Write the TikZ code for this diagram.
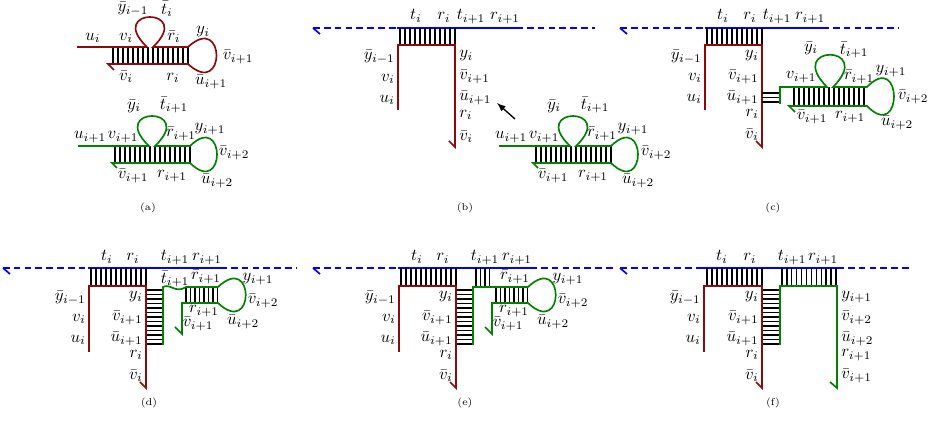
\documentclass[tikz,border=0pt]{standalone}
\usepackage{amsmath,amssymb}
\usepackage{tikz}
\usetikzlibrary{arrows}
\definecolor{dnared}{RGB}{140,10,10}
\definecolor{dnagreen}{RGB}{0,130,0}

\begin{document}
\begin{tikzpicture}[x=0.6pt, y=-0.6pt, >=latex,
    redst/.style={draw=dnared, line width=1pt},
    grnst/.style={draw=dnagreen, line width=1pt},
    bluest/.style={draw=blue, line width=1pt},
    bluedash/.style={bluest, dash pattern=on 4pt off 2.5pt},
    bp/.style={draw=black, line width=0.75pt},
    lbl/.style={inner sep=0pt},
    lft/.style={lbl, anchor=east},
    rgt/.style={lbl, anchor=west},
    toplbl/.style={lbl, anchor=base},
    captxt/.style={inner sep=0pt, font=\fontsize{6}{7}\selectfont}]
    \useasboundingbox (0,0) rectangle (940,432);

    % (a) red hairpin
    \foreach \x in {113,118,...,188} \draw[bp] (\x,47) -- (\x,64);
    \draw[redst] (77,47) -- (147,47) .. controls (105,7) and (195,7) .. (153,47) -- (188,47)
        .. controls (226,12) and (226,99) .. (188,64) -- (108,64) -- (114,70);
    \node[lbl] (a-ui) at (93,38) {$u_i$};
    \node[lbl] (a-vi) at (126,38) {$v_i$};
    \node[lbl] (a-ybar) at (133,9) {$\bar{y}_{i-1}$};
    \node[lbl] (a-tbar) at (167,9) {$\bar{t}_i$};
    \node[lbl] (a-rbar) at (174,37) {$\bar{r}_i$};
    \node[lbl] (a-yi) at (203,32) {$y_i$};
    \node[lbl] (a-vbar1) at (238,57) {$\bar{v}_{i+1}$};
    \node[lbl] (a-vbar) at (126,77) {$\bar{v}_i$};
    \node[lbl] (a-ri) at (173,78) {$r_i$};
    \node[lbl] (a-ubar1) at (211,82) {$\bar{u}_{i+1}$};

    % (a) green hairpin
    \foreach \x in {115,120,...,190} \draw[bp] (\x,146) -- (\x,163);
    \draw[grnst] (78,146) -- (149,146) .. controls (107,106) and (197,106) .. (155,146) -- (190,146)
        .. controls (226,111) and (226,198) .. (190,163) -- (112,163) -- (117,168);
    \node[lbl] (a-u1) at (90,137) {$u_{i+1}$};
    \node[lbl] (a-v1) at (123,137) {$v_{i+1}$};
    \node[lbl] (a-ybari) at (134,106) {$\bar{y}_i$};
    \node[lbl] (a-tbar1) at (174,105) {$\bar{t}_{i+1}$};
    \node[lbl] (a-rbar1) at (181,134) {$\bar{r}_{i+1}$};
    \node[lbl] (a-y1) at (210,129) {$y_{i+1}$};
    \node[lbl] (a-vbar2) at (234,153) {$\bar{v}_{i+2}$};
    \node[lbl] (a-vbarb) at (133,176) {$\bar{v}_{i+1}$};
    \node[lbl] (a-r1) at (172,176) {$r_{i+1}$};
    \node[lbl] (a-ubar2) at (217,181) {$\bar{u}_{i+2}$};
    \node[captxt] (cap-a) at (148,208) {(a)};

    % (b) template and red strand
    \draw[bluedash] (313,28) -- (397,28);
    \draw[bluest] (313,28) -- (320,34);
    \draw[bluest] (397,28) -- (516,28);
    \draw[bluedash] (516,28) -- (595,28);
    \foreach \x in {400,405,...,455} \draw[bp] (\x,28) -- (\x,45);
    \draw[redst] (398,110) -- (398,45) -- (455,45) -- (455,147) -- (449,141);
    \node[toplbl] (b-ti) at (416,20) {$t_i$};
    \node[toplbl] (b-ri) at (444,20) {$r_i$};
    \node[toplbl] (b-t1) at (471,20) {$t_{i+1}$};
    \node[toplbl] (b-r1) at (505,20) {$r_{i+1}$};
    \node[lft] (b-ybar) at (395,57) {$\bar{y}_{i-1}$};
    \node[lft] (b-vi) at (395,79) {$v_i$};
    \node[lft] (b-ui) at (395,100) {$u_i$};
    \node[rgt] (b-yi) at (459,56) {$y_i$};
    \node[rgt] (b-vbar1) at (459,77) {$\bar{v}_{i+1}$};
    \node[rgt] (b-ubar1) at (459,98) {$\bar{u}_{i+1}$};
    \node[rgt] (b-rr) at (459,115) {$r_i$};
    \node[rgt] (b-vbar) at (459,137) {$\bar{v}_i$};

    % (b) green hairpin and arrow
    \foreach \x in {536,541,...,611} \draw[bp] (\x,146) -- (\x,163);
    \draw[grnst] (499,146) -- (570,146) .. controls (528,106) and (618,106) .. (576,146) -- (611,146)
        .. controls (647,111) and (647,198) .. (611,163) -- (533,163) -- (538,168);
    \node[lbl] (b-u1) at (511,137) {$u_{i+1}$};
    \node[lbl] (b-v1) at (544,137) {$v_{i+1}$};
    \node[lbl] (b-ybari) at (554,106) {$\bar{y}_i$};
    \node[lbl] (b-tbar1) at (595,105) {$\bar{t}_{i+1}$};
    \node[lbl] (b-rbar1) at (602,134) {$\bar{r}_{i+1}$};
    \node[lbl] (b-y1) at (633,129) {$y_{i+1}$};
    \node[lbl] (b-vbar2) at (656,153) {$\bar{v}_{i+2}$};
    \node[lbl] (b-vbarb) at (553,176) {$\bar{v}_{i+1}$};
    \node[lbl] (b-r1b) at (593,176) {$r_{i+1}$};
    \node[lbl] (b-ubar2) at (638,181) {$\bar{u}_{i+2}$};
    \coordinate (arrS) at (515,119);
    \coordinate (arrT) at (497,103);
    \draw[->, line width=0.8pt] (arrS) -- (arrT);
    \node[captxt] (cap-b) at (465,208) {(b)};

    % (c) template and red strand
    \draw[bluedash] (620,28) -- (705,28);
    \draw[bluest] (620,28) -- (627,34);
    \draw[bluest] (705,28) -- (822,28);
    \draw[bluedash] (822,28) -- (898,28);
    \foreach \x in {707,712,...,762} \draw[bp] (\x,28) -- (\x,45);
    \draw[redst] (705,110) -- (705,45) -- (762,45) -- (762,147) -- (756,141);
    \foreach \y in {93,97.5,102} \draw[bp] (762,\y) -- (780,\y);
    \node[toplbl] (c-ti) at (723,20) {$t_i$};
    \node[toplbl] (c-ri) at (750,20) {$r_i$};
    \node[toplbl] (c-t1) at (777,20) {$t_{i+1}$};
    \node[toplbl] (c-r1) at (810,20) {$r_{i+1}$};
    \node[lft] (c-ybar) at (702,57) {$\bar{y}_{i-1}$};
    \node[lft] (c-vi) at (702,78) {$v_i$};
    \node[lft] (c-ui) at (702,99) {$u_i$};
    \node[lft] (c-yi) at (759,56) {$y_i$};
    \node[lft] (c-vbar1) at (759,77) {$\bar{v}_{i+1}$};
    \node[lft] (c-ubar1) at (759,98) {$\bar{u}_{i+1}$};
    \node[lft] (c-rr) at (759,114) {$r_i$};
    \node[lft] (c-vbar) at (759,135) {$\bar{v}_i$};

    % (c) green hairpin
    \foreach \x in {794,799,...,866} \draw[bp] (\x,87) -- (\x,106);
    \draw[grnst] (780,104) -- (780,87) -- (827,87) .. controls (784,44) and (876,44) .. (833,87) -- (867,87)
        .. controls (903,50) and (903,143) .. (867,106) -- (789,106) -- (795,112);
    \node[lbl] (c-ybari) at (811,48) {$\bar{y}_i$};
    \node[lbl] (c-tbar1) at (854,50) {$\bar{t}_{i+1}$};
    \node[lbl] (c-v1) at (801,77) {$v_{i+1}$};
    \node[lbl] (c-rbar1) at (859,77) {$\bar{r}_{i+1}$};
    \node[lbl] (c-y1) at (891,71) {$y_{i+1}$};
    \node[lbl] (c-vbar2) at (913,97) {$\bar{v}_{i+2}$};
    \node[lbl] (c-vbarb) at (812,117) {$\bar{v}_{i+1}$};
    \node[lbl] (c-r1b) at (850,117) {$r_{i+1}$};
    \node[lbl] (c-ubar2) at (897,123) {$\bar{u}_{i+2}$};
    \node[captxt] (cap-c) at (773,208) {(c)};

    % (d) template and red strand
    \draw[bluedash] (3,268) -- (88,268);
    \draw[bluest] (3,268) -- (10,274);
    \draw[bluest] (88,268) -- (220,268);
    \draw[bluedash] (220,268) -- (297,268);
    \foreach \x in {91,96,...,146} \draw[bp] (\x,268) -- (\x,286);
    \foreach \y in {290,294.5,...,344} \draw[bp] (146,\y) -- (163,\y);
    \draw[redst] (89,352) -- (89,286) -- (146,286) -- (146,388) -- (140,382);
    \node[toplbl] (d-ti) at (107,261) {$t_i$};
    \node[toplbl] (d-ri) at (133,261) {$r_i$};
    \node[toplbl] (d-t1) at (175,261) {$t_{i+1}$};
    \node[toplbl] (d-r1) at (207,261) {$r_{i+1}$};
    \node[lft] (d-ybar) at (86,298) {$\bar{y}_{i-1}$};
    \node[lft] (d-vi) at (86,319) {$v_i$};
    \node[lft] (d-ui) at (86,340) {$u_i$};
    \node[lft] (d-yi) at (143,297) {$y_i$};
    \node[lft] (d-vbar1) at (143,318) {$\bar{v}_{i+1}$};
    \node[lft] (d-ubar1) at (143,339) {$\bar{u}_{i+1}$};
    \node[lft] (d-rr) at (143,355) {$r_i$};
    \node[lft] (d-vbar) at (143,376) {$\bar{v}_i$};

    % (d) green strand
    \foreach \x in {186,190.5,...,218} \draw[bp] (\x,287) -- (\x,303);
    \draw[grnst] (163,345) -- (163,287) .. controls (170,283) and (176,294) .. (186,287) -- (218,287)
        .. controls (255,252) and (255,338) .. (218,303) -- (182,303) -- (182,334) -- (175,327);
    \node[lbl] (d-tbar1) at (175,279) {$\bar{t}_{i+1}$};
    \node[lbl] (d-rbar1) at (206,277) {$\bar{r}_{i+1}$};
    \node[lbl] (d-y1) at (258,279) {$y_{i+1}$};
    \node[lbl] (d-vbar2) at (263,301) {$\bar{v}_{i+2}$};
    \node[lbl] (d-r1b) at (204,311) {$r_{i+1}$};
    \node[lbl] (d-vbarb) at (198,324) {$\bar{v}_{i+1}$};
    \node[lbl] (d-ubar2) at (243,322) {$\bar{u}_{i+2}$};
    \node[captxt] (cap-d) at (149,403) {(d)};

    % (e) template and red strand
    \draw[bluedash] (313,268) -- (398,268);
    \draw[bluest] (313,268) -- (320,274);
    \draw[bluest] (398,268) -- (530,268);
    \draw[bluedash] (530,268) -- (615,268);
    \foreach \x in {401,406,...,456} \draw[bp] (\x,268) -- (\x,286);
    \foreach \y in {290,294.5,...,344} \draw[bp] (456,\y) -- (473,\y);
    \draw[redst] (399,352) -- (399,286) -- (456,286) -- (456,388) -- (450,382);
    \node[toplbl] (e-ti) at (417,261) {$t_i$};
    \node[toplbl] (e-ri) at (443,261) {$r_i$};
    \node[toplbl] (e-t1) at (485,261) {$t_{i+1}$};
    \node[toplbl] (e-r1) at (517,261) {$r_{i+1}$};
    \node[lft] (e-ybar) at (396,298) {$\bar{y}_{i-1}$};
    \node[lft] (e-vi) at (396,319) {$v_i$};
    \node[lft] (e-ui) at (396,340) {$u_i$};
    \node[lft] (e-yi) at (453,297) {$y_i$};
    \node[lft] (e-vbar1) at (453,318) {$\bar{v}_{i+1}$};
    \node[lft] (e-ubar1) at (453,339) {$\bar{u}_{i+1}$};
    \node[lft] (e-rr) at (453,355) {$r_i$};
    \node[lft] (e-vbar) at (453,376) {$\bar{v}_i$};

    % (e) green strand
    \foreach \x in {476,480.5,...,492} \draw[bp] (\x,268) -- (\x,287);
    \foreach \x in {496,500.5,...,528} \draw[bp] (\x,287) -- (\x,303);
    \draw[grnst] (473,345) -- (473,287) -- (528,287)
        .. controls (565,252) and (565,338) .. (528,303) -- (492,303) -- (492,334) -- (485,327);
    \node[lbl] (e-rbar1) at (515,277) {$\bar{r}_{i+1}$};
    \node[lbl] (e-y1) at (568,279) {$y_{i+1}$};
    \node[lbl] (e-vbar2) at (573,301) {$\bar{v}_{i+2}$};
    \node[lbl] (e-r1b) at (514,311) {$r_{i+1}$};
    \node[lbl] (e-vbarb) at (508,324) {$\bar{v}_{i+1}$};
    \node[lbl] (e-ubar2) at (553,322) {$\bar{u}_{i+2}$};
    \node[captxt] (cap-e) at (465,403) {(e)};

    % (f) template and both strands
    \draw[bluedash] (620,268) -- (703,268);
    \draw[bluest] (620,268) -- (627,274);
    \draw[bluest] (703,268) -- (837,268);
    \draw[bluedash] (837,268) -- (912,268);
    \foreach \x in {707,712,...,762} \draw[bp] (\x,268) -- (\x,286);
    \foreach \x in {782,786.9,...,837} \draw[bp] (\x,268) -- (\x,286);
    \foreach \y in {290,294.5,...,344} \draw[bp] (762,\y) -- (780,\y);
    \draw[redst] (704,352) -- (704,286) -- (762,286) -- (762,388) -- (756,382);
    \draw[grnst] (780,345) -- (780,286) -- (837,286) -- (837,388) -- (830,382);
    \node[toplbl] (f-ti) at (722,261) {$t_i$};
    \node[toplbl] (f-ri) at (750,261) {$r_i$};
    \node[toplbl] (f-t1) at (792,261) {$t_{i+1}$};
    \node[toplbl] (f-r1) at (823,261) {$r_{i+1}$};
    \node[lft] (f-ybar) at (701,298) {$\bar{y}_{i-1}$};
    \node[lft] (f-vi) at (701,319) {$v_i$};
    \node[lft] (f-ui) at (701,340) {$u_i$};
    \node[lft] (f-yi) at (759,297) {$y_i$};
    \node[lft] (f-vbar1) at (759,318) {$\bar{v}_{i+1}$};
    \node[lft] (f-ubar1) at (759,339) {$\bar{u}_{i+1}$};
    \node[lft] (f-rr) at (759,355) {$r_i$};
    \node[lft] (f-vbar) at (759,376) {$\bar{v}_i$};
    \node[rgt] (f-y1) at (841,297) {$y_{i+1}$};
    \node[rgt] (f-vbar2) at (841,318) {$\bar{v}_{i+2}$};
    \node[rgt] (f-ubar2) at (841,339) {$\bar{u}_{i+2}$};
    \node[rgt] (f-r1b) at (841,355) {$r_{i+1}$};
    \node[rgt] (f-vbarb) at (841,376) {$\bar{v}_{i+1}$};
    \node[captxt] (cap-f) at (773,403) {(f)};
\end{tikzpicture}
\end{document}
